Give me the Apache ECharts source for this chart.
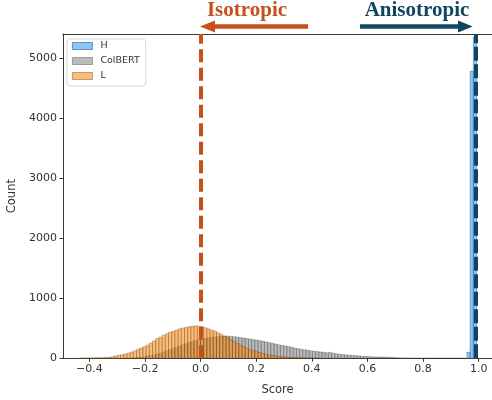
<!DOCTYPE html>
<html>
<head>
<meta charset="utf-8">
<script src="https://cdn.jsdelivr.net/npm/echarts@6/dist/echarts.min.js"></script>
<style>html,body{margin:0;padding:0;background:#fff;}#c{width:492px;height:400px;}</style>
</head>
<body>
<div id="c"></div>
<script>
// ---- data ----
const binWidth = 0.0115;
const seriesNames = ['H', 'ColBERT', 'L'];
// H histogram (first bin left edge, counts)
const hStart = 0.958;
const hCounts = [100, 4780, 5350];
// ColBERT histogram
const colbertStart = -0.2535;
const colbertCounts = [
  5, 8, 12, 18, 25, 35, 45, 58, 72, 88,
  105, 125, 145, 165, 185, 205, 225, 245, 262, 280,
  295, 305, 318, 330, 340, 350, 355, 362, 365, 370,
  368, 365, 360, 355, 345, 338, 330, 320, 312, 305,
  295, 285, 272, 262, 250, 238, 225, 215, 205, 195,
  183, 170, 160, 150, 142, 135, 125, 118, 112, 106,
  100, 92, 98, 85, 75, 68, 62, 57, 52, 48,
  44, 40, 35, 31, 28, 25, 23, 22, 21, 20,
  19, 16, 12, 9, 7, 6, 5, 4, 4, 3,
  3, 3, 2, 2, 2, 2, 1, 1, 1, 1,
  1, 1, 1, 1, 1
];
// L histogram
const lStart = -0.4375;
const lCounts = [
  5, 5, 6, 6, 7, 8, 9, 11, 14, 18,
  26, 40, 50, 60, 72, 88, 105, 125, 150, 172,
  195, 220, 255, 290, 330, 355, 380, 410, 435, 450,
  470, 490, 505, 515, 525, 535, 540, 535, 525, 510,
  490, 470, 455, 425, 400, 370, 340, 310, 280, 250,
  220, 195, 170, 150, 130, 112, 95, 80, 68, 57,
  47, 40, 33, 27, 22, 18, 15, 12, 10, 8,
  6, 5, 4, 3, 2
];
// reference lines
const isoX = 0.0;
const anisoX = 0.994;
// ticks
const xTickValues = [-0.4, -0.2, 0.0, 0.2, 0.4, 0.6, 0.8, 1.0];
const xTickLabels = ['\u22120.4', '\u22120.2', '0.0', '0.2', '0.4', '0.6', '0.8', '1.0'];
const yTickValues = [0, 1000, 2000, 3000, 4000, 5000];
const yTickLabels = ['0', '1000', '2000', '3000', '4000', '5000'];

// ---- build ----
function bins(start, counts) {
  return counts.map((c, i) => [start + i * binWidth, start + (i + 1) * binWidth, c]);
}
const styles = {
  H: { fill: 'rgba(30,140,240,0.5)', stroke: 'rgba(20,80,150,0.7)' },
  ColBERT: { fill: 'rgba(120,120,120,0.5)', stroke: 'rgba(40,40,40,0.45)' },
  L: { fill: 'rgba(252,140,20,0.58)', stroke: 'rgba(70,40,10,0.45)' }
};
function histSeries(name, data) {
  const st = styles[name];
  return {
    name: name,
    type: 'custom',
    data: data,
    encode: { x: [0, 1], y: 2 },
    itemStyle: { color: st.fill, borderColor: st.stroke, borderWidth: 0.8 },
    renderItem: function (params, api) {
      const p0 = api.coord([api.value(0), api.value(2)]);
      const p1 = api.coord([api.value(1), 0]);
      return {
        type: 'rect',
        shape: { x: p0[0], y: p0[1], width: p1[0] - p0[0], height: p1[1] - p0[1] },
        style: { fill: st.fill, stroke: st.stroke, lineWidth: 0.6 }
      };
    }
  };
}
function lookup(vals, labels, v) {
  for (let i = 0; i < vals.length; i++) if (Math.abs(vals[i] - v) < 1e-6) return labels[i];
  return '';
}
const orange = '#C5501C';
const navy = '#10475F';
const chart = echarts.init(document.getElementById('c'), null, { renderer: 'canvas' });
const lSeries = histSeries('L', bins(lStart, lCounts));
lSeries.markLine = {
  silent: true,
  symbol: 'none',
  z: 10,
  label: { show: false },
  data: [
    { xAxis: isoX, lineStyle: { color: orange, width: 4, type: [13, 5.5], opacity: 1 } },
    { xAxis: anisoX, lineStyle: { color: navy, width: 4, type: [14, 3.5], opacity: 1 } }
  ]
};
const axisName = { fontSize: 11.5, color: '#333', fontFamily: 'DejaVu Sans' };
const option = {
  animation: false,
  backgroundColor: '#fff',
  textStyle: { fontFamily: 'DejaVu Sans' },
  grid: { left: 63, top: 34, right: 0, bottom: 41.7, containLabel: false, outerBoundsMode: 'none' },
  legend: {
    orient: 'vertical',
    left: 67, top: 39,
    padding: [2, 6, 5, 5],
    itemWidth: 20, itemHeight: 7, itemGap: 5,
    backgroundColor: 'rgba(255,255,255,0.85)',
    borderColor: '#d8d8d8', borderWidth: 1, borderRadius: 3,
    textStyle: { fontSize: 9.5, color: '#333', fontFamily: 'DejaVu Sans', padding: [0, 0, 0, 3] },
    data: seriesNames.map(n => ({ name: n, icon: 'rect', itemStyle: { color: styles[n].fill, borderColor: styles[n].stroke, borderWidth: 0.8 } }))
  },
  xAxis: [{
    type: 'value', min: -0.495, max: 1.048, position: 'bottom',
    name: 'Score', nameLocation: 'middle', nameGap: 26,
    nameTextStyle: axisName,
    splitLine: { show: false },
    axisLine: { show: true, onZero: false, lineStyle: { color: '#222', width: 0.9 } },
    axisTick: { show: true, customValues: xTickValues, length: 3.5, lineStyle: { color: '#222', width: 0.9 } },
    axisLabel: { customValues: xTickValues, fontSize: 11, color: '#333', margin: 5, fontFamily: 'DejaVu Sans',
      formatter: v => lookup(xTickValues, xTickLabels, v) }
  }, {
    type: 'value', min: -0.495, max: 1.048, position: 'top',
    splitLine: { show: false },
    axisLine: { show: true, onZero: false, lineStyle: { color: '#222', width: 0.9 } },
    axisTick: { show: false }, axisLabel: { show: false }
  }],
  yAxis: {
    type: 'value', min: 0, max: 5400,
    name: 'Count', nameLocation: 'middle', nameGap: 44,
    nameTextStyle: axisName,
    splitLine: { show: false },
    axisLine: { show: true, onZero: false, lineStyle: { color: '#222', width: 0.9 } },
    axisTick: { show: true, customValues: yTickValues, length: 3.5, lineStyle: { color: '#222', width: 0.9 } },
    axisLabel: { customValues: yTickValues, fontSize: 11, color: '#333', margin: 6, fontFamily: 'DejaVu Sans',
      formatter: v => lookup(yTickValues, yTickLabels, v) }
  },
  series: [
    histSeries('H', bins(hStart, hCounts)),
    histSeries('ColBERT', bins(colbertStart, colbertCounts)),
    lSeries
  ],
  graphic: [
    { type: 'text', x: 247, y: 11, style: { text: 'Isotropic', fill: orange, font: 'bold 21px "Liberation Serif"', align: 'center', verticalAlign: 'middle' } },
    { type: 'line', shape: { x1: 308, y1: 26.5, x2: 213, y2: 26.5 }, style: { stroke: orange, lineWidth: 4.3 } },
    { type: 'polygon', shape: { points: [[200, 26.5], [215, 20.5], [215, 32.5]] }, style: { fill: orange } },
    { type: 'text', x: 417, y: 11, style: { text: 'Anisotropic', fill: navy, font: 'bold 21px "Liberation Serif"', align: 'center', verticalAlign: 'middle' } },
    { type: 'line', shape: { x1: 360, y1: 26.5, x2: 461, y2: 26.5 }, style: { stroke: navy, lineWidth: 4.3 } },
    { type: 'polygon', shape: { points: [[472.7, 26.5], [458, 20.5], [458, 32.5]] }, style: { fill: navy } }
  ]
};
chart.setOption(option);
</script>
</body>
</html>
